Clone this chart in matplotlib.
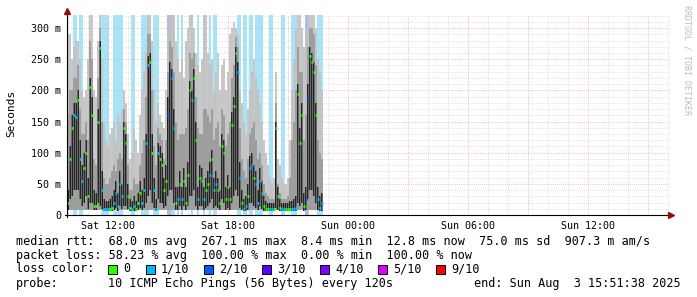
import matplotlib
matplotlib.use("Agg")
import matplotlib.pyplot as plt
from matplotlib.patches import Rectangle
import numpy as np

# ---- data (ms), one sample per 6 minutes starting Sat 09:57 ----
STEP = 6
median_ms = [
    20, 90, 140, 160, 157, 185, 90, 55, 75, 100, 30, 205, 160, 15, 15, 150,
    268, 40, 10, 10, 10, 10, 12, 20, 35, 15, 50, 30, 140, 115, 30, 12,
    10, 15, 10, 20, 35, 20, 40, 115, 240, 245, 100, 40, 10, 100, 90, 80,
    40, 55, 160, 230, 220, 140, 20, 25, 50, 25, 55, 20, 65, 200, 185, 220,
    120, 25, 60, 55, 25, 40, 50, 65, 90, 40, 50, 40, 20, 110, 100, 25,
    45, 25, 145, 175, 260, 230, 60, 20, 10, 15, 30, 75, 80, 60, 50, 20,
    55, 35, 15, 10, 10, 10, 10, 10, 140, 30, 12, 10, 10, 10, 10, 10,
    10, 10, 12, 195, 115, 160, 15, 25, 190, 255, 245, 230, 160, 25, 12, 20,
]
smoke_top_ms = [
    290, 290, 250, 270, 280, 280, 250, 200, 190, 200, 250, 322, 322, 200, 190, 280,
    322, 250, 150, 120, 110, 130, 140, 150, 120, 160, 150, 170, 200, 180, 130, 90,
    100, 140, 120, 100, 160, 200, 230, 260, 322, 322, 280, 200, 150, 180, 160, 150,
    140, 200, 300, 322, 322, 322, 280, 250, 230, 250, 220, 280, 300, 322, 322, 300,
    260, 240, 230, 250, 322, 322, 260, 240, 250, 200, 230, 260, 200, 240, 250, 200,
    230, 290, 300, 310, 300, 290, 200, 180, 150, 130, 170, 200, 230, 250, 220, 200,
    180, 150, 120, 100, 80, 60, 50, 60, 230, 90, 80, 60, 50, 50, 60, 120,
    200, 250, 300, 322, 322, 300, 270, 300, 322, 322, 322, 322, 300, 250, 230, 200,
]
smoke_mid_ms = [
    160, 200, 200, 220, 220, 240, 170, 130, 130, 150, 120, 280, 250, 90, 80, 220,
    300, 150, 60, 50, 50, 60, 70, 80, 70, 90, 100, 90, 170, 150, 80, 40,
    40, 60, 50, 50, 80, 100, 120, 190, 290, 290, 200, 110, 80, 140, 130, 120,
    90, 120, 230, 280, 270, 230, 150, 120, 130, 130, 130, 140, 170, 260, 250, 260,
    190, 140, 130, 130, 170, 170, 160, 150, 170, 120, 140, 150, 110, 170, 160, 110,
    130, 150, 220, 240, 285, 270, 140, 90, 70, 60, 90, 130, 140, 150, 120, 90,
    100, 80, 50, 35, 30, 25, 25, 25, 180, 50, 35, 25, 25, 25, 30, 60,
    120, 150, 200, 270, 230, 230, 120, 160, 270, 300, 300, 290, 240, 120, 100, 90,
]
core_top_ms = [
    40, 110, 160, 180, 180, 200, 120, 80, 100, 120, 60, 220, 190, 40, 35, 170,
    280, 70, 25, 22, 22, 25, 30, 40, 55, 35, 70, 50, 150, 130, 50, 25,
    22, 30, 22, 35, 55, 40, 60, 130, 255, 260, 130, 60, 25, 115, 110, 100,
    60, 80, 190, 245, 235, 170, 45, 45, 70, 45, 75, 45, 85, 215, 200, 235,
    150, 45, 80, 75, 45, 60, 70, 85, 105, 60, 70, 60, 40, 130, 120, 45,
    65, 45, 165, 190, 270, 245, 85, 40, 25, 30, 50, 95, 100, 80, 70, 40,
    75, 55, 30, 22, 20, 20, 20, 20, 150, 45, 25, 20, 20, 20, 20, 22,
    22, 25, 30, 210, 140, 180, 35, 45, 210, 270, 260, 245, 180, 45, 30, 35,
]
core_bottom_ms = [
    8, 25, 30, 40, 40, 40, 25, 15, 20, 30, 10, 20, 20, 8, 8, 20,
    15, 10, 6, 6, 6, 6, 6, 8, 12, 6, 15, 10, 15, 15, 10, 6,
    6, 6, 6, 8, 12, 8, 12, 20, 30, 40, 20, 12, 6, 25, 20, 20,
    12, 15, 30, 40, 40, 20, 8, 8, 15, 8, 15, 8, 15, 30, 30, 40,
    15, 8, 15, 15, 8, 12, 15, 20, 25, 12, 15, 12, 8, 25, 20, 8,
    12, 8, 20, 30, 40, 30, 12, 8, 6, 6, 8, 20, 20, 15, 12, 8,
    15, 10, 6, 6, 6, 6, 6, 6, 12, 8, 6, 6, 6, 6, 6, 6,
    6, 6, 6, 20, 15, 20, 6, 8, 25, 40, 40, 30, 20, 8, 6, 6,
]
loss_tenths = [
    0, 0, 0, 1, 1, 0, 1, 1, 0, 0, 0, 0, 0, 0, 0, 0,
    0, 1, 1, 1, 1, 0, 0, 1, 1, 1, 1, 1, 0, 0, 0, 0,
    1, 1, 0, 0, 0, 1, 1, 1, 1, 0, 0, 1, 1, 1, 0, 0,
    0, 0, 2, 2, 1, 1, 0, 1, 0, 1, 0, 0, 0, 0, 1, 0,
    0, 1, 0, 0, 1, 0, 0, 1, 0, 1, 1, 0, 0, 0, 0, 0,
    0, 0, 0, 0, 0, 1, 1, 0, 1, 1, 0, 1, 1, 0, 1, 1,
    1, 1, 0, 0, 0, 1, 1, 0, 0, 0, 0, 1, 1, 0, 0, 0,
    1, 1, 1, 0, 0, 0, 0, 2, 2, 0, 0, 0, 0, 1, 1, 1,
]
smoke_floor_ms = 8

loss_labels = ["0", "1/10", "2/10", "3/10", "4/10", "5/10", "9/10"]
loss_colors = ["#26ff00", "#00b8ff", "#0059ff", "#5e00ff", "#7e00ff", "#dd00ff", "#ff0000"]
loss_bg = {1: "#a8e4f8", 2: "#a8b8f6"}

x_labels = ["Sat 12:00", "Sat 18:00", "Sun 00:00", "Sun 06:00", "Sun 12:00"]
x_label_pos = [123, 483, 843, 1203, 1563]   # minutes after 09:57
y_ticks = [0, 50, 100, 150, 200, 250, 300]

stats_rtt = "median rtt:  68.0 ms avg  267.1 ms max  8.4 ms min  12.8 ms now  75.0 ms sd  907.3 m am/s"
stats_loss = "packet loss: 58.23 % avg  100.00 % max  0.00 % min  100.00 % now"
probe_txt = "10 ICMP Echo Pings (56 Bytes) every 120s"
end_txt = "end: Sun Aug  3 15:51:38 2025"

MONO = "DejaVu Sans Mono"
W, H = 697, 297
fig = plt.figure(figsize=(W / 100, H / 100), dpi=100)
fig.patch.set_facecolor("white")
ax = fig.add_axes([67 / W, 1 - 215 / H, 602 / W, 200 / H])
XMAX, YMAX = 1806, 321
ax.set_xlim(0, XMAX)
ax.set_ylim(0, YMAX)

t = np.arange(len(median_ms)) * STEP
med = np.array(median_ms)
loss = np.array(loss_tenths)

# loss background stripes
for lv, c in loss_bg.items():
    sel = loss == lv
    ax.bar(t[sel], YMAX, width=STEP, align="edge", color=c, linewidth=0, zorder=1)

# grid (under the smoke, over the loss stripes)
for m in range(10, YMAX, 10):
    c = "#eeaaaa" if m % 50 == 0 else "#d6d6d6"
    ax.axhline(m, color=c, lw=0.6, ls=(0, (1, 1.5)), zorder=1.5)
for h in range(0, 31):
    xm = 3 + 60 * h
    if xm > XMAX:
        break
    c = "#eeaaaa" if (10 + h) % 3 == 0 else "#d6d6d6"
    ax.axvline(xm, color=c, lw=0.6, ls=(0, (1, 1.5)), zorder=1.5)

# smoke
top = np.array(smoke_top_ms)
mid = np.array(smoke_mid_ms)
ax.bar(t, top - smoke_floor_ms, bottom=smoke_floor_ms, width=STEP, align="edge",
       color="#c2c2c2", alpha=0.9, linewidth=0, zorder=2)
ax.bar(t, mid - smoke_floor_ms, bottom=smoke_floor_ms, width=STEP, align="edge",
       color="#9e9e9e", linewidth=0, zorder=2)
ct = np.array(core_top_ms)
cb = np.array(core_bottom_ms)
ax.bar(t, ct - cb, bottom=cb, width=STEP, align="edge",
       color="#6a6a6a", linewidth=0, zorder=3)
ax.bar(t + STEP * 0.25, ct - cb, bottom=cb, width=STEP * 0.5, align="edge",
       color="#242424", linewidth=0, zorder=3)

# median, coloured by loss
ax.hlines(med, t, t + STEP, colors=[loss_colors[l] for l in loss], linewidth=2.0, zorder=4)

for s in ax.spines.values():
    s.set_visible(False)
ax.set_xticks(x_label_pos)
ax.set_xticklabels(x_labels, family=MONO, fontsize=7.2)
ax.set_yticks(y_ticks)
ax.set_yticklabels(["0"] + ["%d m" % v for v in y_ticks[1:]], family=MONO, fontsize=7.2)
ax.tick_params(length=0)
ax.tick_params(axis="x", pad=4)
ax.tick_params(axis="y", pad=4)

# axes with arrows
ax.plot([0, 0], [-0.01, 1.02], transform=ax.transAxes, color="black", lw=0.8,
        clip_on=False, zorder=6)
ax.plot([-0.004, 1.0], [0, 0], transform=ax.transAxes, color="black", lw=0.8,
        clip_on=False, zorder=6)
ax.plot([0], [1.02], marker="^", ms=4, color="#8b1010", transform=ax.transAxes,
        clip_on=False, zorder=7)
ax.plot([1.004], [0], marker=">", ms=4, color="#8b1010", transform=ax.transAxes,
        clip_on=False, zorder=7)

fig.text(11 / W, 1 - 113 / H, "Seconds", rotation=90, ha="center", va="center",
         family=MONO, fontsize=8)
fig.text(687 / W, 1 - 5 / H, "RRDTOOL / TOBI OETIKER", rotation=270, ha="center",
         va="top", family=MONO, fontsize=6, color="#bcbcbc")

def px(x, y):
    return x / W, 1 - y / H

fig.text(*px(16, 241), stats_rtt, va="center", family=MONO, fontsize=8.5)
fig.text(*px(16, 256), stats_loss, va="center", family=MONO, fontsize=8.5)
fig.text(*px(16, 269), "loss color:", va="center", family=MONO, fontsize=8.5)
box_x = [108, 146, 204, 262, 320, 378, 436]
for bx, lab, c in zip(box_x, loss_labels, loss_colors):
    fig.patches.append(Rectangle(px(bx, 274), 9 / W, 9 / H, transform=fig.transFigure,
                                 facecolor=c, edgecolor="black", lw=0.7))
    fig.text(*px(bx + 15, 269), lab, va="center", family=MONO, fontsize=8.5)
fig.text(*px(16, 283), "probe:", va="center", family=MONO, fontsize=8.5)
fig.text(*px(108, 283), probe_txt, va="center", family=MONO, fontsize=8.5)
fig.text(*px(474, 283), end_txt, va="center", family=MONO, fontsize=8.5)

fig.savefig("out.png", dpi=100, facecolor="white")
